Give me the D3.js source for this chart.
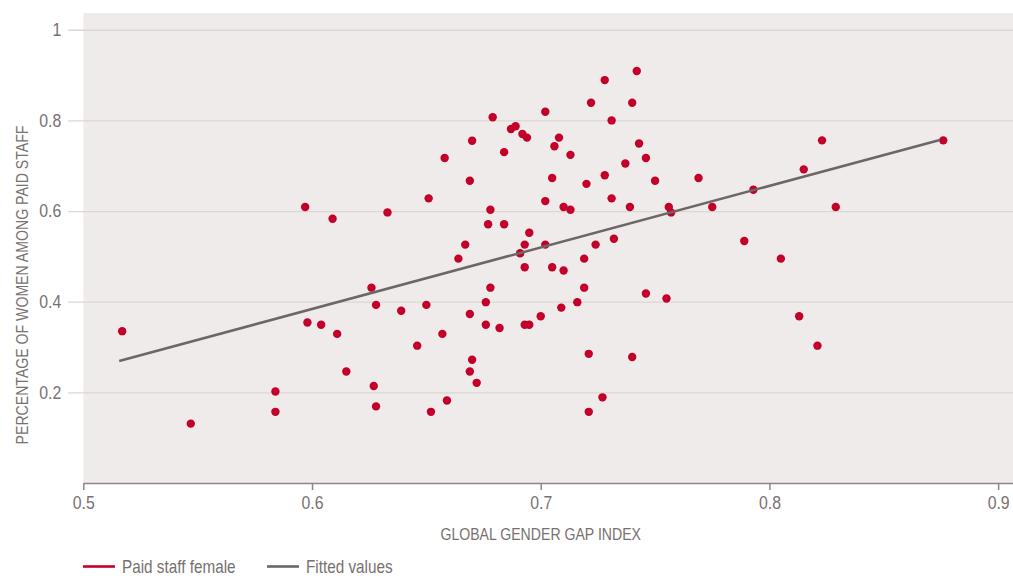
<!DOCTYPE html>
<html>
<head>
<meta charset="utf-8">
<script src="https://cdn.jsdelivr.net/npm/d3@7"></script>
<style>
  html, body { margin: 0; padding: 0; background: #ffffff; }
  svg { display: block; }
  text { font-family: "Liberation Sans Narrow", "Liberation Sans", Arial, sans-serif; fill: #77716f; }
</style>
</head>
<body>
<svg id="chart" width="1013" height="576"></svg>
<script>
// Global Gender Gap Index per country
const gapIndex = [
  0.517, 0.547, 0.584, 0.584, 0.597, 0.609, 0.598, 0.604, 0.611, 0.633,
  0.651, 0.658, 0.670, 0.669, 0.679, 0.687, 0.689, 0.692, 0.694, 0.684,
  0.702, 0.708, 0.706, 0.713, 0.722, 0.728, 0.742, 0.740, 0.731, 0.743,
  0.746, 0.737, 0.750, 0.728, 0.720, 0.705, 0.702, 0.710, 0.713, 0.731,
  0.739, 0.756, 0.757, 0.678, 0.677, 0.684, 0.695, 0.667, 0.664, 0.693,
  0.691, 0.693, 0.702, 0.705, 0.710, 0.719, 0.724, 0.732, 0.626, 0.678,
  0.719, 0.746, 0.755, 0.628, 0.639, 0.650, 0.615, 0.627, 0.628, 0.646,
  0.657, 0.652, 0.659, 0.669, 0.676, 0.676, 0.682, 0.670, 0.669, 0.672,
  0.693, 0.695, 0.700, 0.709, 0.716, 0.721, 0.740, 0.727, 0.721, 0.823,
  0.876, 0.769, 0.815, 0.793, 0.775, 0.829, 0.789, 0.805, 0.813, 0.821
];
// Share of women among paid staff, same country order
const paidStaffFemale = [
  0.335, 0.131, 0.202, 0.157, 0.609, 0.583, 0.354, 0.349, 0.329, 0.597,
  0.628, 0.717, 0.755, 0.667, 0.807, 0.781, 0.787, 0.770, 0.762, 0.730,
  0.819, 0.762, 0.743, 0.724, 0.839, 0.889, 0.909, 0.839, 0.800, 0.749,
  0.717, 0.705, 0.667, 0.679, 0.660, 0.673, 0.622, 0.609, 0.603, 0.628,
  0.609, 0.609, 0.597, 0.603, 0.571, 0.571, 0.552, 0.526, 0.495, 0.526,
  0.507, 0.476, 0.526, 0.476, 0.469, 0.495, 0.526, 0.539, 0.431, 0.431,
  0.431, 0.418, 0.407, 0.393, 0.380, 0.393, 0.246, 0.214, 0.169, 0.303,
  0.329, 0.157, 0.182, 0.373, 0.399, 0.349, 0.342, 0.272, 0.246, 0.221,
  0.349, 0.349, 0.368, 0.387, 0.399, 0.285, 0.278, 0.189, 0.157, 0.756,
  0.756, 0.673, 0.692, 0.647, 0.609, 0.609, 0.534, 0.495, 0.368, 0.303
];
// Fitted values of the linear regression (end points)
const fittedX = [0.5157, 0.8745];
const fittedY = [0.2692, 0.757];

const xTicks = [0.5, 0.6, 0.7, 0.8, 0.9];
const yTicks = [0.2, 0.4, 0.6, 0.8, 1];
const xTickLabels = ["0.5", "0.6", "0.7", "0.8", "0.9"];
const yTickLabels = ["0.2", "0.4", "0.6", "0.8", "1"];
const legendLabels = ["Paid staff female", "Fitted values"];

const RED = "#c3002a";
const GREY_LINE = "#6c6765";

// horizontal squeeze that gives the regular sans a condensed look
const TICK_SQUEEZE = 0.88;
const TITLE_SQUEEZE = 0.83;
const LEGEND_SQUEEZE = 0.85;

const svg = d3.select("#chart");
const margin = { left: 83.3, right: 0, top: 13, bottom: 93 };
const W = 1013, H = 576;
const plotW = W - margin.left - margin.right;
const plotH = H - margin.top - margin.bottom;

const x = d3.scaleLinear().domain([0.5, 0.9065]).range([0, plotW]);
const y = d3.scaleLinear().domain([0, 1.037]).range([plotH, 0]);

const g = svg.append("g").attr("transform", `translate(${margin.left},${margin.top})`);

// plot background
g.append("rect")
  .attr("x", 0).attr("y", 0)
  .attr("width", plotW).attr("height", plotH)
  .attr("fill", "#efebea");

// y axis: light gridlines that reach out into short ticks
const yAxis = d3.axisLeft(y)
  .tickValues(yTicks)
  .tickFormat((d, i) => yTickLabels[i])
  .tickSize(-(plotW + 15))
  .tickPadding(6);
const gy = g.append("g")
  .attr("transform", `translate(-15,0)`)
  .call(yAxis);
gy.select(".domain").remove();
gy.selectAll(".tick line")
  .attr("stroke", "#dcd7d5")
  .attr("stroke-width", 1.3);
gy.selectAll(".tick text")
  .attr("x", -7 / TICK_SQUEEZE)
  .attr("transform", `scale(${TICK_SQUEEZE},1)`)
  .style("font-size", "18px")
  .style("fill", "#77716f");

// x axis
const xAxis = d3.axisBottom(x)
  .tickValues(xTicks)
  .tickFormat((d, i) => xTickLabels[i])
  .tickSize(7)
  .tickSizeOuter(0)
  .tickPadding(6);
const gx = g.append("g")
  .attr("transform", `translate(0,${plotH})`)
  .call(xAxis);
gx.select(".domain").attr("stroke", "#8d8785").attr("stroke-width", 1.5);
gx.selectAll(".tick line").attr("stroke", "#8d8785").attr("stroke-width", 1.5);
gx.selectAll(".tick text")
  .attr("transform", `scale(${TICK_SQUEEZE},1)`)
  .style("font-size", "18px")
  .style("fill", "#77716f");

// scatter points
g.append("g")
  .selectAll("circle")
  .data(gapIndex.map((v, i) => [v, paidStaffFemale[i]]))
  .join("circle")
  .attr("cx", d => x(d[0]))
  .attr("cy", d => y(d[1]))
  .attr("r", 4.2)
  .attr("fill", RED);

// fitted regression line
g.append("path")
  .datum(fittedX.map((v, i) => [v, fittedY[i]]))
  .attr("d", d3.line().x(d => x(d[0])).y(d => y(d[1])))
  .attr("fill", "none")
  .attr("stroke", GREY_LINE)
  .attr("stroke-width", 2.6);

// axis titles
svg.append("text")
  .attr("transform", `translate(${margin.left + x(0.7)},540) scale(${TITLE_SQUEEZE},1)`)
  .attr("text-anchor", "middle")
  .style("font-size", "17px")
  .text("GLOBAL GENDER GAP INDEX");

svg.append("text")
  .attr("transform", `translate(28,285) rotate(-90) scale(${TITLE_SQUEEZE},1)`)
  .attr("text-anchor", "middle")
  .style("font-size", "17px")
  .text("PERCENTAGE OF WOMEN AMONG PAID STAFF");

// legend
const legend = svg.append("g").attr("transform", "translate(83,566.5)");
const legendItems = [
  { label: legendLabels[0], color: RED, x0: 0 },
  { label: legendLabels[1], color: GREY_LINE, x0: 184 }
];
legendItems.forEach(it => {
  legend.append("line")
    .attr("x1", it.x0).attr("x2", it.x0 + 32)
    .attr("y1", 0).attr("y2", 0)
    .attr("stroke", it.color)
    .attr("stroke-width", 2.6);
  legend.append("text")
    .attr("transform", `translate(${it.x0 + 39},6) scale(${LEGEND_SQUEEZE},1)`)
    .style("font-size", "18px")
    .text(it.label);
});
</script>
</body>
</html>
